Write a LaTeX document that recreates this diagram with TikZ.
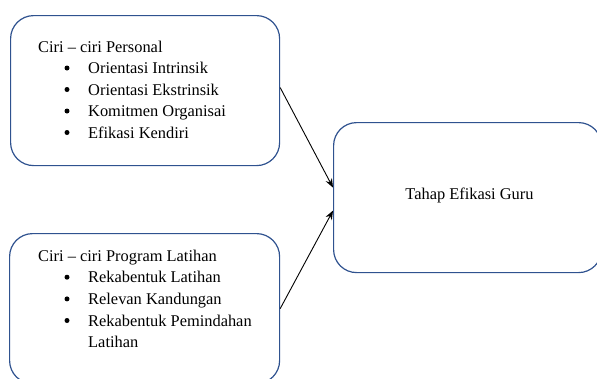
\documentclass[tikz,border=0pt]{standalone}
\usepackage{fontspec}
\setmainfont{Liberation Serif}
\usetikzlibrary{arrows.meta}
\definecolor{boxblue}{HTML}{2F528F}
\begin{document}
\begin{tikzpicture}[x=1pt,y=-1pt,
  panel/.style={draw=boxblue, line width=1.2pt, rounded corners=23pt,
    rectangle, anchor=north west, inner sep=0pt},
  txt/.style={anchor=base west, inner sep=0pt, font=\fontsize{16.4}{20}\selectfont},
  dot/.style={circle, fill=black, inner sep=0pt, minimum size=5pt},
  link/.style={draw=black, line width=0.9pt, -{Stealth[length=9pt,width=7pt]}}]
  \useasboundingbox (0,0) rectangle (597,378);
  \clip (0,0) rectangle (597,378);

  % the three boxes
  \node[panel, minimum width=269pt, minimum height=150pt] (b1) at (10,15) {};
  \node[panel, minimum width=270pt, minimum height=150pt] (b2) at (9,233) {};
  \node[panel, minimum width=268pt, minimum height=150pt] (b3) at (333,122) {};

  % personal characteristics
  \node[txt] (h1) at (38,52) {Ciri – ciri Personal};
  \node[dot] (d11) at (67,68) {};
  \node[txt] (i11) at (88,73.5) {Orientasi Intrinsik};
  \node[dot] (d12) at (67,89.5) {};
  \node[txt] (i12) at (88,95) {Orientasi Ekstrinsik};
  \node[dot] (d13) at (67,111) {};
  \node[txt] (i13) at (88,116.5) {Komitmen Organisai};
  \node[dot] (d14) at (67,132.5) {};
  \node[txt] (i14) at (88,138) {Efikasi Kendiri};

  % training programme characteristics
  \node[txt] (h2) at (38,261) {Ciri – ciri Program Latihan};
  \node[dot] (d21) at (67,277.2) {};
  \node[txt] (i21) at (88,282.7) {Rekabentuk Latihan};
  \node[dot] (d22) at (67,298.9) {};
  \node[txt] (i22) at (88,304.4) {Relevan Kandungan};
  \node[dot] (d23) at (67,320.5) {};
  \node[txt] (i23) at (88,326) {Rekabentuk Pemindahan};
  \node[txt] (i24) at (88,347.5) {Latihan};

  % outcome
  \node[txt, anchor=base] (h3) at (469.5,199.5) {Tahap Efikasi Guru};

  % connectors
  \draw[link] ([yshift=3pt]b1.east) -- ([yshift=10pt]b3.west);
  \draw[link] (b2.east) -- ([yshift=-13pt]b3.west);
\end{tikzpicture}
\end{document}
